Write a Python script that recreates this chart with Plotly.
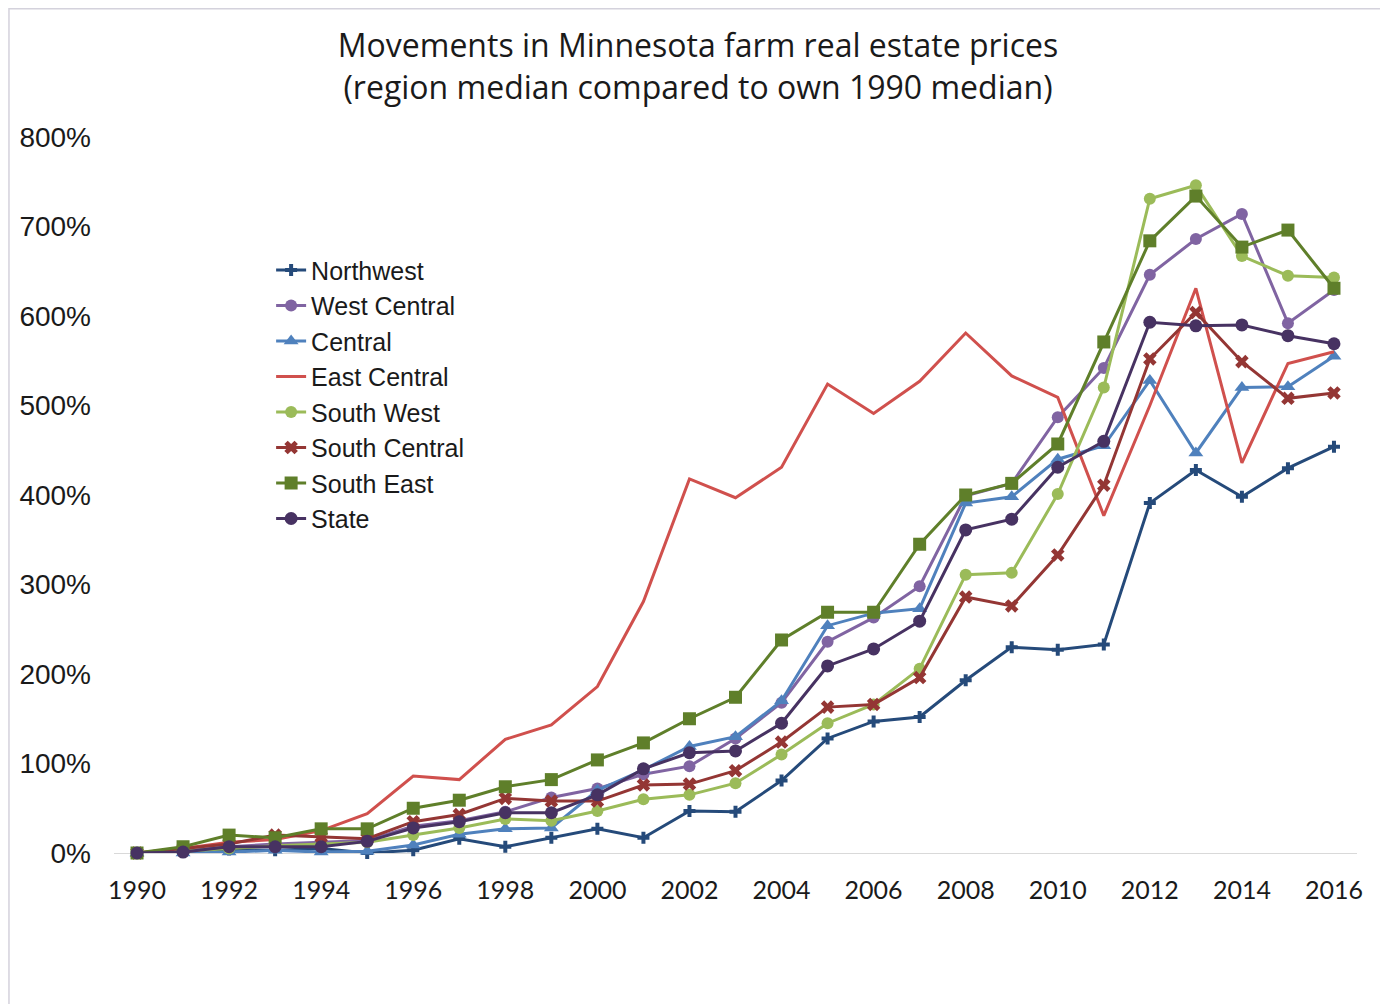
import plotly.graph_objects as go

years = list(range(1990, 2017))

northwest = [0, 1, 4, 3, 5, 0, 3, 16, 7, 17, 27, 17, 47, 46, 81, 128, 147, 152, 193,
             230, 227, 233, 391, 428, 398, 430, 454]
west_central = [0, 2, 7, 10, 12, 14, 30, 36, 46, 62, 72, 88, 97, 128, 168, 236, 263, 298, 399,
                413, 487, 542, 646, 686, 714, 592, 629]
central = [0, 0, 1, 3, 1, 2, 9, 21, 27, 28, 70, 93, 119, 130, 170, 254, 268, 273, 391,
           398, 440, 455, 528, 447, 520, 521, 555]
east_central = [0, 5, 12, 15, 25, 44, 86, 82, 127, 143, 186, 281, 418, 397, 431, 524, 491, 527, 581,
                533, 509, 377, 500, 631, 436, 547, 560]
south_west = [0, 2, 5, 8, 10, 12, 20, 28, 38, 36, 47, 60, 65, 78, 110, 145, 166, 206, 311,
              313, 401, 520, 731, 746, 667, 645, 643]
south_central = [0, 5, 10, 20, 18, 16, 35, 43, 61, 58, 58, 76, 77, 92, 124, 163, 166, 196, 286,
                 276, 333, 411, 552, 604, 549, 508, 514]
south_east = [0, 7, 20, 17, 27, 27, 50, 59, 74, 82, 104, 123, 150, 174, 238, 269, 269, 345, 400,
              413, 457, 571, 684, 734, 677, 696, 631]
state = [0, 1, 7, 7, 7, 13, 28, 35, 45, 45, 65, 94, 112, 114, 145, 209, 228, 259, 361,
         373, 431, 460, 593, 589, 590, 578, 569]

series = [
    ("Northwest", northwest, "#254A7A", "cross", 10),
    ("West Central", west_central, "#8064A2", "circle", 12),
    ("Central", central, "#4F81BD", "triangle-up", 13),
    ("East Central", east_central, "#D0504D", None, 0),
    ("South West", south_west, "#9BBB59", "circle", 12),
    ("South Central", south_central, "#943634", "x", 12),
    ("South East", south_east, "#5F7F2A", "square", 13),
    ("State", state, "#473262", "circle", 13),
]

fig = go.Figure()
for name, vals, color, sym, size in series:
    if sym is None:
        fig.add_trace(go.Scatter(x=years, y=vals, name=name, mode="lines",
                                 line=dict(color=color, width=3)))
    else:
        fig.add_trace(go.Scatter(x=years, y=vals, name=name, mode="lines+markers",
                                 line=dict(color=color, width=3),
                                 marker=dict(symbol=sym, size=size, color=color,
                                             line=dict(width=0))))

fig.update_traces(cliponaxis=False)

# page body has an 8px margin, so the figure is a bit smaller than the window
fig.update_layout(
    width=1380, height=996,
    paper_bgcolor="white", plot_bgcolor="white",
    margin=dict(l=106, r=31, t=129, b=151),
    title=dict(
        text="Movements in Minnesota farm real estate prices<br>(region median compared to own 1990 median)",
        font=dict(family="Liberation Sans Narrow, Open Sans, sans-serif", size=32, color="#1a1a1a"),
        x=0.5, xref="container", xanchor="center",
        y=0.9505, yref="container", yanchor="middle",
    ),
    showlegend=True,
    legend=dict(
        x=0.1264, y=0.846, xanchor="left", yanchor="top",
        font=dict(family="Liberation Sans, Arial, sans-serif", size=25, color="#1a1a1a"),
        bgcolor="rgba(0,0,0,0)", itemwidth=30,
    ),
    xaxis=dict(
        range=[1989.5, 2016.5], tickmode="linear", tick0=1990, dtick=2,
        showgrid=False, zeroline=False, showline=False, ticks="",
        ticklabelstandoff=20,
        tickfont=dict(family="Lato, Noto Sans, sans-serif", size=25, color="#1a1a1a"),
    ),
    yaxis=dict(
        range=[0, 800], tickmode="linear", tick0=0, dtick=100, ticksuffix="%",
        showgrid=False, zeroline=True, zerolinecolor="#D9D9D9", zerolinewidth=1,
        showline=False, ticks="", ticklabelstandoff=22,
        tickfont=dict(family="Liberation Sans, Arial, sans-serif", size=28, color="#1a1a1a"),
    ),
    # thin frame around the chart like the original
    shapes=[dict(type="rect", xref="paper", yref="paper",
                 x0=-0.0845, x1=1.0209, y0=-0.23, y1=1.179,
                 line=dict(color="#D4D2DC", width=1.5), layer="below")],
)

fig.write_html("out.html")
